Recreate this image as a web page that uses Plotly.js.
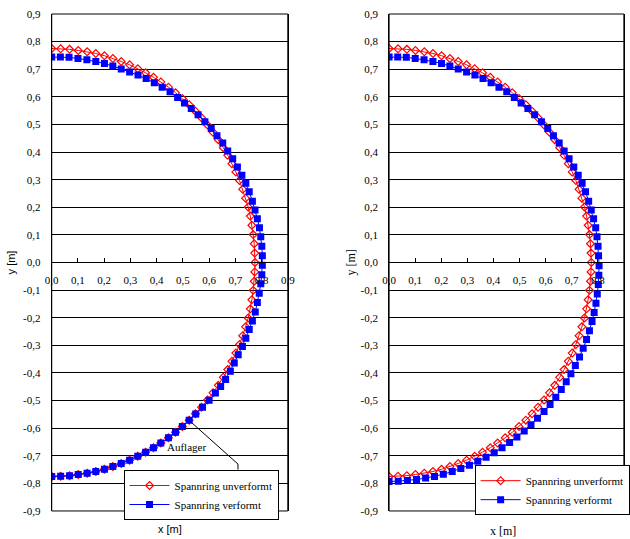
<!DOCTYPE html>
<html>
<head>
<meta charset="utf-8">
<script src="https://cdn.plot.ly/plotly-3.0.1.min.js"></script>
<style>html,body{margin:0;padding:0;background:#fff;}#chart{width:630px;height:539px;}</style>
</head>
<body>
<div id="chart"></div>
<script>
// ---- data ----
const seriesNames = ["Spannring unverformt", "Spannring verformt"];

// undeformed ring (same in both panels)
const redX = [0,0.034,0.068,0.101,0.135,0.168,0.201,0.233,0.265,0.297,0.328,0.358,0.388,0.416,0.445,0.472,0.498,0.524,0.548,0.571,0.594,0.615,0.635,0.654,0.671,0.687,0.702,0.716,0.728,0.739,0.749,0.757,0.763,0.768,0.772,0.774,0.775,
  0.774,0.772,0.768,0.763,0.757,0.749,0.739,0.728,0.716,0.702,0.687,0.671,0.654,0.635,0.615,0.594,0.571,0.548,0.524,0.498,0.472,0.445,0.416,0.388,0.358,0.328,0.297,0.265,0.233,0.201,0.168,0.135,0.101,0.068,0.034,0];
const redY = [0.775,0.774,0.772,0.768,0.763,0.757,0.749,0.739,0.728,0.716,0.702,0.687,0.671,0.654,0.635,0.615,0.594,0.571,0.548,0.524,0.498,0.472,0.445,0.416,0.388,0.358,0.328,0.297,0.265,0.233,0.201,0.168,0.135,0.101,0.068,0.034,0,
  -0.034,-0.068,-0.101,-0.135,-0.168,-0.201,-0.233,-0.265,-0.297,-0.328,-0.358,-0.388,-0.416,-0.445,-0.472,-0.498,-0.524,-0.548,-0.571,-0.594,-0.615,-0.635,-0.654,-0.671,-0.687,-0.702,-0.716,-0.728,-0.739,-0.749,-0.757,-0.763,-0.768,-0.772,-0.774,-0.775];

// deformed ring, left panel (supported, "Auflager")
const blueLX = [0,0.033,0.066,0.100,0.134,0.168,0.201,0.233,0.265,0.297,0.329,0.360,0.391,0.421,0.451,0.480,0.506,0.532,0.558,0.584,0.608,0.630,0.652,0.671,0.690,0.708,0.725,0.740,0.753,0.765,0.775,0.784,0.792,0.797,0.801,0.803,0.803,
  0.801,0.797,0.791,0.784,0.776,0.765,0.753,0.740,0.727,0.711,0.696,0.681,0.663,0.644,0.624,0.600,0.575,0.549,
  0.524,0.498,0.472,0.445,0.416,0.388,0.358,0.328,0.297,0.265,0.233,0.201,0.168,0.135,0.101,0.068,0.034,0];
const blueLY = [0.744,0.744,0.743,0.739,0.734,0.728,0.721,0.712,0.701,0.690,0.679,0.666,0.651,0.635,0.618,0.598,0.578,0.558,0.535,0.510,0.485,0.459,0.433,0.404,0.376,0.346,0.316,0.287,0.256,0.222,0.190,0.158,0.126,0.093,0.059,0.024,-0.010,
  -0.044,-0.077,-0.111,-0.145,-0.179,-0.212,-0.243,-0.274,-0.304,-0.334,-0.364,-0.394,-0.424,-0.449,-0.473,-0.499,-0.524,-0.549,
  -0.571,-0.594,-0.615,-0.635,-0.654,-0.671,-0.687,-0.702,-0.716,-0.728,-0.739,-0.749,-0.757,-0.763,-0.768,-0.772,-0.774,-0.775];

// deformed ring, right panel
const blueRX = [0,0.033,0.066,0.100,0.134,0.168,0.201,0.233,0.265,0.297,0.329,0.360,0.391,0.421,0.451,0.480,0.506,0.532,0.558,0.584,0.608,0.630,0.652,0.671,0.690,0.708,0.725,0.740,0.753,0.765,0.775,0.784,0.792,0.797,0.801,0.803,0.805,
  0.804,0.802,0.798,0.793,0.786,0.778,0.768,0.757,0.744,0.730,0.714,0.697,0.679,0.660,0.639,0.617,0.594,0.569,0.544,0.518,
  0.490,0.462,0.433,0.403,0.372,0.340,0.308,0.275,0.242,0.208,0.174,0.140,0.105,0.070,0.035,0];
const blueRY = [0.744,0.744,0.743,0.739,0.734,0.728,0.721,0.712,0.701,0.690,0.679,0.666,0.651,0.635,0.618,0.598,0.578,0.558,0.535,0.510,0.485,0.459,0.433,0.404,0.376,0.346,0.316,0.287,0.256,0.222,0.190,0.158,0.126,0.093,0.059,0.024,-0.012,
  -0.046,-0.080,-0.114,-0.148,-0.181,-0.214,-0.247,-0.279,-0.311,-0.342,-0.373,-0.403,-0.432,-0.460,-0.488,-0.514,-0.540,-0.564,-0.588,-0.610,
  -0.632,-0.652,-0.671,-0.689,-0.705,-0.720,-0.734,-0.746,-0.757,-0.767,-0.775,-0.781,-0.786,-0.790,-0.792,-0.793];

const xTicks = [0,0.1,0.2,0.3,0.4,0.5,0.6,0.7,0.8,0.9];
const xTickLabels = ["0,0","0,1","0,2","0,3","0,4","0,5","0,6","0,7","0,8","0,9"];
const yTicks = [0.9,0.8,0.7,0.6,0.5,0.4,0.3,0.2,0.1,0,-0.1,-0.2,-0.3,-0.4,-0.5,-0.6,-0.7,-0.8,-0.9];
const yTickLabels = ["0,9","0,8","0,7","0,6","0,5","0,4","0,3","0,2","0,1","0,0","-0,1","-0,2","-0,3","-0,4","-0,5","-0,6","-0,7","-0,8","-0,9"];

const supportLabel = "Auflager";
const xTitle = "x [m]";
const yTitle = "y [m]";

// ---- styling ----
const serif = "Liberation Serif, Times New Roman, serif";
const sans = "Liberation Sans, Arial, sans-serif";
const RED = "#ff0000", BLUE = "#0000ff";

function redTrace(xa, ya, leg, show) {
  return {x: redX, y: redY, xaxis: xa, yaxis: ya, legend: leg, showlegend: show,
    name: seriesNames[0], type: "scatter", mode: "lines+markers",
    line: {color: RED, width: 1},
    marker: {symbol: "diamond-open", size: 6, color: RED, line: {color: RED, width: 1.2}}};
}
function blueTrace(bx, by, xa, ya, leg, show) {
  return {x: bx, y: by, xaxis: xa, yaxis: ya, legend: leg, showlegend: show,
    name: seriesNames[1], type: "scatter", mode: "lines+markers",
    line: {color: BLUE, width: 1},
    marker: {symbol: "square", size: 7, color: BLUE}};
}

const traces = [
  redTrace("x", "y", "legend", true),
  blueTrace(blueLX, blueLY, "x", "y", "legend", true),
  redTrace("x2", "y2", "legend2", true),
  blueTrace(blueRX, blueRY, "x2", "y2", "legend2", true)
];

const tickFont = {family: serif, size: 11, color: "#000"};
const yDom = [0.052, 0.974];
const yMid = (yDom[0] + yDom[1]) / 2;

function xAxis(dom) {
  return {domain: dom, range: [0, 0.9], anchor: "free", position: yMid,
    tickvals: xTicks, ticktext: xTickLabels, ticks: "inside", ticklen: 4, tickcolor: "#000",
    ticklabelstandoff: 7,
    tickfont: tickFont, showgrid: false, zeroline: false, showline: true, linecolor: "#000", linewidth: 1,
    fixedrange: true, automargin: false};
}
function yAxis(anchor) {
  return {domain: yDom, range: [-0.9, 0.9], anchor: anchor,
    tickvals: yTicks, ticktext: yTickLabels, ticks: "", ticklabelstandoff: 8,
    tickfont: tickFont, showgrid: true, gridcolor: "#000", gridwidth: 1, zeroline: false,
    showline: true, mirror: true, linecolor: "#000", linewidth: 1, fixedrange: true, automargin: false};
}

const legendBase = {bgcolor: "#fff", bordercolor: "#000", borderwidth: 1,
  font: {family: serif, size: 11, color: "#000"}, xanchor: "left", yanchor: "top",
  tracegroupgap: 0, itemwidth: 40};

const layout = {
  width: 630, height: 539,
  margin: {l: 0, r: 0, t: 0, b: 0},
  paper_bgcolor: "#fff", plot_bgcolor: "#fff",
  xaxis: xAxis([0.0825, 0.459]),
  yaxis: yAxis("x"),
  xaxis2: xAxis([0.6206, 0.995]),
  yaxis2: yAxis("x2"),
  legend: Object.assign({x: 0.197, y: 0.128}, legendBase),
  legend2: Object.assign({x: 0.757, y: 0.137}, legendBase),
  shapes: [
    {type: "rect", xref: "x domain", yref: "y domain", x0: 0, x1: 1, y0: 0, y1: 1, line: {color: "#000", width: 1}},
    {type: "rect", xref: "x2 domain", yref: "y2 domain", x0: 0, x1: 1, y0: 0, y1: 1, line: {color: "#000", width: 1}},
    {type: "path", xref: "x", yref: "y", path: "M0.524,-0.572 L0.71,-0.730 L0.71,-0.75", line: {color: "#000", width: 1}}
  ],
  annotations: [
    {text: supportLabel, xref: "x", yref: "y", x: 0.513, y: -0.668, showarrow: false, font: {family: serif, size: 11, color: "#000"}},
    {text: xTitle, xref: "paper", yref: "paper", x: 0.2705, y: 0.0186, xanchor: "center", yanchor: "middle", showarrow: false, font: {family: sans, size: 11, color: "#000"}},
    {text: yTitle, xref: "paper", yref: "paper", x: 0.019, y: yMid, xanchor: "center", yanchor: "middle", textangle: -90, showarrow: false, font: {family: sans, size: 11, color: "#000"}},
    {text: xTitle, xref: "paper", yref: "paper", x: 0.802, y: 0.0150, xanchor: "center", yanchor: "middle", showarrow: false, font: {family: serif, size: 12, color: "#000"}},
    {text: yTitle, xref: "paper", yref: "paper", x: 0.560, y: yMid, xanchor: "center", yanchor: "middle", textangle: -90, showarrow: false, font: {family: serif, size: 12, color: "#000"}}
  ]
};

Plotly.newPlot("chart", traces, layout, {displayModeBar: false, staticPlot: true});
</script>
</body>
</html>
